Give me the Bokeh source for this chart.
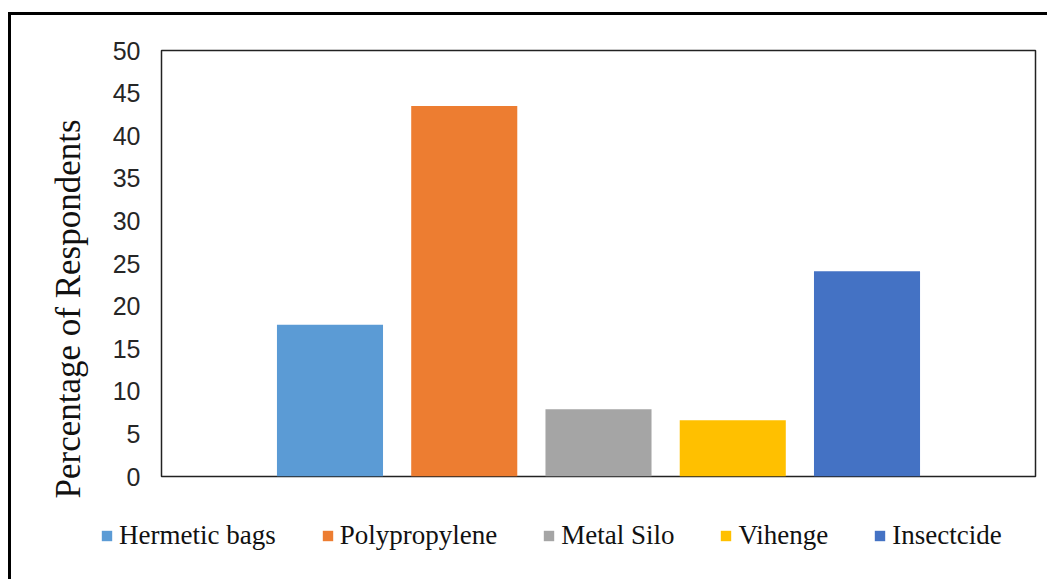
from bokeh.plotting import figure
from bokeh.layouts import column
from bokeh.models import FactorRange, FixedTicker, Legend, LegendItem, Title, ColumnDataSource, Range1d
from bokeh.embed import file_html
from bokeh.resources import INLINE

categories = ["Hermetic bags", "Polypropylene", "Metal Silo", "Vihenge", "Insectcide"]
values = [17.8, 43.5, 7.9, 6.6, 24.1]
colors = ["#5B9BD5", "#ED7D31", "#A5A5A5", "#FFC000", "#4472C4"]
y_ticks = [0, 5, 10, 15, 20, 25, 30, 35, 40, 45, 50]

src = ColumnDataSource(dict(cat=categories, val=values, col=colors))

p = figure(
    width=1036, height=491,
    x_range=FactorRange(factors=categories, range_padding=0.755, range_padding_units="absolute"),
    y_range=(0, 50),
    output_backend="svg", toolbar_location=None,
    min_border_left=150, min_border_right=12, min_border_top=35, min_border_bottom=30,
)
p.background_fill_color = "white"
p.border_fill_color = "white"
p.outline_line_color = "#222222"
p.outline_line_width = 1.5
p.xgrid.visible = False
p.ygrid.visible = False
p.xaxis.visible = False
p.frame_align = False

r = p.vbar(x="cat", top="val", width=0.79, color="col", source=src, line_color=None)

ya = p.yaxis[0]
ya.ticker = FixedTicker(ticks=y_ticks)
ya.axis_line_color = None
ya.major_tick_line_color = None
ya.minor_tick_line_color = None
ya.major_label_standoff = 15
ya.major_label_text_font = "Liberation Sans"
ya.major_label_text_font_size = "25px"
ya.major_label_text_color = "#262626"

t = Title(text="Percentage of Respondents", align="left", offset=-22,
          text_font="Liberation Serif", text_font_size="35px", text_font_style="normal",
          text_color="#111111", standoff=44)
p.add_layout(t, "left")

# legend strip below the chart
lf = figure(
    width=1036, height=73,
    x_range=FactorRange(factors=categories), y_range=Range1d(1000, 2000),
    output_backend="svg", toolbar_location=None,
    min_border_left=0, min_border_right=0, min_border_top=0, min_border_bottom=0,
)
lf.frame_align = False
lf.axis.visible = False
lf.grid.visible = False
lf.outline_line_color = None
lf.background_fill_color = "white"
lf.border_fill_color = "white"
lr = lf.vbar(x="cat", top="val", width=0.79, color="col", source=src, line_color=None)

items = [LegendItem(label=c, renderers=[lr], index=i) for i, c in enumerate(categories)]
leg = Legend(items=items, orientation="horizontal", location=(89, 28),
             label_text_font="Liberation Serif", label_text_font_size="27px",
             label_text_color="#111111", glyph_width=13, glyph_height=13,
             label_standoff=6, spacing=45, padding=0, border_line_color=None,
             background_fill_alpha=0, margin=0)
lf.add_layout(leg, "center")

layout = column(p, lf, spacing=0)
layout.margin = (12, 0, 0, 8)
layout.styles = {"border-top": "3px solid black", "border-left": "3px solid black",
                 "background-color": "white"}

open("out.html", "w").write(file_html(layout, INLINE))
